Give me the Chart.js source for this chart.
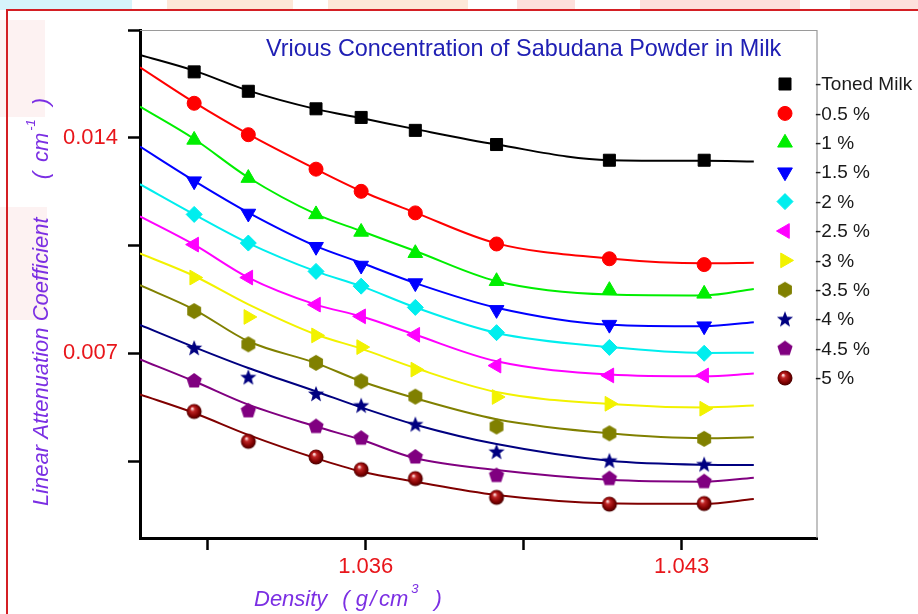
<!DOCTYPE html>
<html>
<head>
<meta charset="utf-8">
<title>Linear attenuation coefficient vs density</title>
<script src="https://cdn.jsdelivr.net/npm/chart.js@4.4.1/dist/chart.umd.min.js"></script>
<style>
  html, body { margin: 0; padding: 0; background: #fff; }
  #wrap { width: 918px; height: 614px; }
</style>
</head>
<body>
<div id="wrap"><canvas id="chart" width="918" height="614"></canvas></div>
<script>
'use strict';

// measured densities (g/cm3) and the x samples used for the fitted curves
const density = [1.0322, 1.0334, 1.0349, 1.0359, 1.0371, 1.0389, 1.0414, 1.0435];
const fitDensity = [1.031, 1.0322, 1.0334, 1.0349, 1.0359, 1.0371, 1.0389, 1.0414, 1.0435, 1.0446];

const seriesNames = ['Toned Milk', '0.5 %', '1 %', '1.5 %', '2 %', '2.5 %', '3 %', '3.5 %', '4 %', '4.5 %', '5 %'];

// measured points (cm^-1)
const tonedMilk = [0.01614, 0.01551, 0.01494, 0.01466, 0.01424, 0.01378, 0.01327, 0.01327];
const conc05 = [0.01512, 0.01410, 0.01298, 0.01226, 0.01156, 0.01055, 0.01007, 0.00988];
const conc1 = [0.01393, 0.01269, 0.01151, 0.01094, 0.01025, 0.00934, 0.00905, 0.00893];
const conc15 = [0.01259, 0.01154, 0.01046, 0.00985, 0.00928, 0.00841, 0.00793, 0.00788];
const conc2 = [0.01151, 0.01058, 0.00966, 0.00918, 0.00849, 0.00767, 0.00719, 0.00700];
const conc25 = [0.01053, 0.00946, 0.00858, 0.00820, 0.00760, 0.00660, 0.00628, 0.00628];
const conc3 = [0.00946, 0.00818, 0.00758, 0.00720, 0.00647, 0.00558, 0.00536, 0.00520];
const conc35 = [0.00837, 0.00729, 0.00669, 0.00609, 0.00559, 0.00462, 0.00440, 0.00422];
const conc4 = [0.00717, 0.00622, 0.00568, 0.00530, 0.00469, 0.00380, 0.00351, 0.00339];
const conc45 = [0.00610, 0.00513, 0.00462, 0.00424, 0.00363, 0.00303, 0.00293, 0.00283];
const conc5 = [0.00511, 0.00414, 0.00363, 0.00322, 0.00293, 0.00232, 0.00210, 0.00212];

// fitted curves at fitDensity
const fitToned = [0.01669, 0.01618, 0.01553, 0.01493, 0.01464, 0.01428, 0.01378, 0.01327, 0.01325, 0.01323];
const fit05 = [0.01629, 0.01515, 0.01412, 0.01298, 0.01227, 0.01157, 0.01057, 0.01008, 0.00992, 0.00994];
const fit1 = [0.01501, 0.01396, 0.01271, 0.01152, 0.01097, 0.01032, 0.00934, 0.00891, 0.00888, 0.00909];
const fit15 = [0.01371, 0.01260, 0.01157, 0.01048, 0.00994, 0.00928, 0.00848, 0.00793, 0.00788, 0.00801];
const fit2 = [0.01249, 0.01151, 0.01058, 0.00966, 0.00918, 0.00849, 0.00766, 0.00720, 0.00701, 0.00702];
const fit25 = [0.01145, 0.01053, 0.00946, 0.00858, 0.00820, 0.00760, 0.00674, 0.00631, 0.00625, 0.00634];
const fit3 = [0.01024, 0.00951, 0.00859, 0.00761, 0.00715, 0.00652, 0.00574, 0.00535, 0.00524, 0.00530];
const fit35 = [0.00921, 0.00842, 0.00739, 0.00668, 0.00609, 0.00554, 0.00486, 0.00440, 0.00424, 0.00427];
const fit4 = [0.00792, 0.00720, 0.00652, 0.00576, 0.00524, 0.00468, 0.00405, 0.00351, 0.00338, 0.00337];
const fit45 = [0.00680, 0.00609, 0.00533, 0.00462, 0.00419, 0.00359, 0.00321, 0.00289, 0.00283, 0.00296];
const fit5 = [0.00566, 0.00506, 0.00435, 0.00359, 0.00316, 0.00283, 0.00240, 0.00213, 0.00211, 0.00227];

const measured = [tonedMilk, conc05, conc1, conc15, conc2, conc25, conc3, conc35, conc4, conc45, conc5];
const fitted = [fitToned, fit05, fit1, fit15, fit2, fit25, fit3, fit35, fit4, fit45, fit5];

// axis ticks
const xTicks = [1.0325, 1.036, 1.0395, 1.043];
const xTickLabels = ['', '1.036', '', '1.043'];
const yTicks = [0.0035, 0.007, 0.0105, 0.014, 0.0175];
const yTickLabels = ['', '0.007', '', '0.014', ''];

const COLORS = ['#000000', '#ff0000', '#00ee00', '#0000ff', '#00eeee', '#ff00ff', '#f2f200', '#808000', '#000080', '#800080', '#800000'];
const FONT = '"Liberation Sans", Arial, sans-serif';

// small canvases for symbols Chart.js does not have
function makeMarker(draw) {
  const c = document.createElement('canvas');
  c.width = 20; c.height = 20;
  draw(c.getContext('2d'));
  return c;
}
function polygonMarker(color, sides, r) {
  return makeMarker((g) => {
    g.beginPath();
    for (let i = 0; i < sides; i++) {
      const a = -Math.PI / 2 + i * 2 * Math.PI / sides;
      const px = 10 + r * Math.cos(a), py = 10 + r * Math.sin(a);
      if (i) g.lineTo(px, py); else g.moveTo(px, py);
    }
    g.closePath();
    g.fillStyle = color;
    g.fill();
  });
}
function starMarker(color, outer, inner) {
  return makeMarker((g) => {
    g.beginPath();
    for (let i = 0; i < 10; i++) {
      const a = -Math.PI / 2 + i * Math.PI / 5;
      const r = i % 2 ? inner : outer;
      const px = 10 + r * Math.cos(a), py = 10.5 + r * Math.sin(a);
      if (i) g.lineTo(px, py); else g.moveTo(px, py);
    }
    g.closePath();
    g.fillStyle = color;
    g.fill();
  });
}
function sphereMarker() {
  return makeMarker((g) => {
    const grad = g.createRadialGradient(8, 7, 0.5, 10, 10, 8);
    grad.addColorStop(0, '#ffe0e0');
    grad.addColorStop(0.25, '#c02424');
    grad.addColorStop(0.7, '#7d0000');
    grad.addColorStop(1, '#3c0000');
    g.beginPath();
    g.arc(10, 10, 7.5, 0, Math.PI * 2);
    g.fillStyle = grad;
    g.fill();
  });
}

const markers = [
  { pointStyle: 'rect', radius: 8.5 },
  { pointStyle: 'circle', radius: 7 },
  { pointStyle: 'triangle', radius: 8.5 },
  { pointStyle: 'triangle', radius: 8.5, rotation: 180 },
  { pointStyle: 'rectRot', radius: 8 },
  { pointStyle: 'triangle', radius: 8.5, rotation: 270 },
  { pointStyle: 'triangle', radius: 8.5, rotation: 90 },
  { pointStyle: polygonMarker(COLORS[7], 6, 8), radius: 8 },
  { pointStyle: starMarker(COLORS[8], 8.5, 3.6), radius: 8 },
  { pointStyle: polygonMarker(COLORS[9], 5, 8), radius: 8 },
  { pointStyle: sphereMarker(), radius: 8 },
];

const datasets = [];
measured.forEach((vals, i) => {
  datasets.push({
    label: seriesNames[i],
    data: density.map((x, k) => ({ x, y: vals[k] })),
    showLine: false,
    pointStyle: markers[i].pointStyle,
    pointRadius: markers[i].radius,
    pointRotation: markers[i].rotation || 0,
    pointBackgroundColor: COLORS[i],
    pointBorderColor: COLORS[i],
    pointBorderWidth: 1,
    order: 0,
  });
});
fitted.forEach((vals, i) => {
  datasets.push({
    label: seriesNames[i] + ' fit',
    data: fitDensity.map((x, k) => ({ x, y: vals[k] })),
    borderColor: COLORS[i],
    borderWidth: 2,
    pointRadius: 0,
    cubicInterpolationMode: 'monotone',
    fill: false,
    order: 1,
  });
});

// text pieces with gaps and superscripts, drawn left to right from x
function drawPieces(ctx, pieces, x, y, size) {
  pieces.forEach((p) => {
    if (p.gap) { x += p.gap; return; }
    const s = p.sup ? Math.round(size * 0.6) : size;
    ctx.font = 'italic ' + s + 'px ' + FONT;
    ctx.fillText(p.t, x, p.sup ? y - size * 0.6 : y);
    x += ctx.measureText(p.t).width;
  });
}

const decor = {
  id: 'decor',
  beforeDraw(chart) {
    const { ctx } = chart;
    ctx.save();
    ctx.fillStyle = '#ffffff';
    ctx.fillRect(0, 0, 918, 614);
    // faint strip over the frame
    ctx.fillStyle = '#d6f4fb'; ctx.fillRect(0, 0, 132, 10);
    ctx.fillStyle = '#fde8d8'; ctx.fillRect(167, 0, 126, 10); ctx.fillRect(328, 0, 140, 10);
    ctx.fillStyle = '#fde0dc'; ctx.fillRect(517, 0, 58, 10); ctx.fillRect(640, 0, 160, 10); ctx.fillRect(850, 0, 68, 10);
    ctx.fillStyle = '#fdf2f2'; ctx.fillRect(0, 20, 45, 97); ctx.fillRect(0, 207, 47, 113);
    // red outer frame
    ctx.strokeStyle = '#d41f24';
    ctx.lineWidth = 2;
    ctx.beginPath();
    ctx.moveTo(7, 614); ctx.lineTo(7, 10); ctx.lineTo(918, 10);
    ctx.stroke();
    ctx.restore();
  },
  afterDraw(chart) {
    const { ctx, chartArea: a } = chart;
    ctx.save();
    // thin grey top/right frame
    ctx.strokeStyle = '#9a9a9a';
    ctx.lineWidth = 1.2;
    ctx.beginPath();
    ctx.moveTo(a.left, a.top + 0.5); ctx.lineTo(a.right, a.top + 0.5); ctx.lineTo(a.right, a.bottom);
    ctx.stroke();

    // title inside the plot
    ctx.fillStyle = '#2020b4';
    ctx.font = '23.4px ' + FONT;
    ctx.textBaseline = 'alphabetic';
    ctx.fillText('Vrious Concentration of Sabudana Powder in Milk', 266, 56);

    // legend
    seriesNames.forEach((name, i) => {
      const y = 84 + i * 29.4;
      ctx.fillStyle = COLORS[i];
      ctx.strokeStyle = COLORS[i];
      ctx.lineWidth = 1;
      Chart.helpers.drawPoint(ctx, {
        pointStyle: markers[i].pointStyle,
        rotation: markers[i].rotation || 0,
        radius: markers[i].radius,
        borderWidth: 1,
      }, 785, y);
      ctx.fillStyle = '#1a1a1a';
      ctx.font = '19px ' + FONT;
      ctx.textBaseline = 'middle';
      ctx.fillText('-' + name, 815, y + 1);
    });

    // axis titles
    ctx.fillStyle = '#7b2fe3';
    ctx.textBaseline = 'alphabetic';
    drawPieces(ctx, [
      { t: 'Density' }, { gap: 15 }, { t: '(' }, { gap: 6 }, { t: 'g' }, { gap: 2 }, { t: '/' }, { gap: 3 },
      { t: 'cm' }, { gap: 3 }, { t: '3', sup: true }, { gap: 16 }, { t: ')' },
    ], 254, 606, 22);

    ctx.translate(48, 506);
    ctx.rotate(-Math.PI / 2);
    drawPieces(ctx, [
      { t: 'Linear Attenuation Coefficient' }, { gap: 38 }, { t: '(' }, { gap: 10 },
      { t: 'cm' }, { gap: 2 }, { t: '-1', sup: true }, { gap: 14 }, { t: ')' },
    ], 0, 0, 22);
    ctx.restore();
  },
};

const tickFont = { family: FONT, size: 22 };

new Chart(document.getElementById('chart'), {
  type: 'line',
  data: { datasets },
  plugins: [decor],
  options: {
    responsive: false,
    animation: false,
    layout: { padding: { left: 0, top: 30, right: 101, bottom: 0 } },
    plugins: { legend: { display: false }, tooltip: { enabled: false } },
    scales: {
      x: {
        type: 'linear',
        min: 1.031,
        max: 1.046,
        afterBuildTicks: (scale) => { scale.ticks = xTicks.map((v) => ({ value: v })); },
        afterFit: (scale) => { scale.height = 76; },
        ticks: {
          color: '#e8161b', font: tickFont, padding: 4, maxRotation: 0, autoSkip: false,
          callback: (v, i) => xTickLabels[i],
        },
        grid: { drawOnChartArea: false, tickLength: 12, tickWidth: 2.5, tickColor: '#000' },
        border: { color: '#000', width: 3 },
      },
      y: {
        min: 0.001,
        max: 0.0175,
        afterBuildTicks: (scale) => { scale.ticks = yTicks.map((v) => ({ value: v })); },
        afterFit: (scale) => { scale.width = 140; },
        ticks: {
          color: '#e8161b', font: tickFont, padding: 10, autoSkip: false,
          callback: (v, i) => yTickLabels[i],
        },
        grid: { drawOnChartArea: false, tickLength: 12, tickWidth: 2.5, tickColor: '#000' },
        border: { color: '#000', width: 3 },
      },
    },
  },
});
</script>
</body>
</html>
